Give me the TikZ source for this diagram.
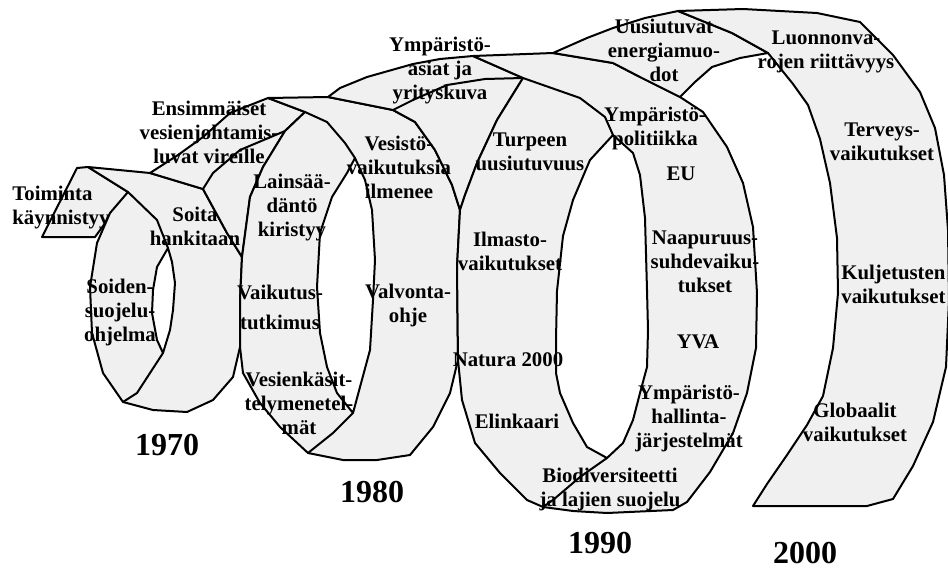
\documentclass[tikz,border=0pt]{standalone}
\usepackage{fontspec}
\setmainfont{Liberation Serif}
\definecolor{ribbon}{gray}{0.94}
\tikzset{
  ribbonpart/.style={fill=ribbon, draw=black, line width=1pt, line join=round},
  holefill/.style={fill=white, draw=black, line width=1pt, line join=round},
  ribbonline/.style={draw=black, line width=1pt, line join=round},
  lbl/.style={font=\bfseries\fontsize{10.4}{12}\selectfont, align=center, inner sep=0pt},
  year/.style={font=\bfseries\fontsize{16}{18}\selectfont, inner sep=0pt}
}
\begin{document}
\begin{tikzpicture}[x=0.5pt, y=-0.5pt]
  \useasboundingbox (0,0) rectangle (948,568);

  \coordinate (a1) at (88,167);
  \coordinate (a2) at (128,192);
  \coordinate (a3) at (150,173);
  \coordinate (a4) at (203,189);
  \coordinate (e1) at (123,402);
  \coordinate (m1) at (242,257);
  \coordinate (m2) at (240,347);
  \coordinate (h1t) at (168,248);
  \coordinate (h1b) at (163,353);
  \coordinate (b1) at (268,98);
  \coordinate (b2) at (305,112);
  \coordinate (b3) at (285,131);
  \coordinate (b4) at (328,97);
  \coordinate (b5) at (393,110);
  \coordinate (h2t) at (355,158);
  \coordinate (h2b) at (353,413);
  \coordinate (c0) at (308,453);
  \coordinate (m3) at (460,210);
  \coordinate (m4) at (458,360);
  \coordinate (c1) at (473,56);
  \coordinate (c2) at (523,78);
  \coordinate (c3) at (553,53);
  \coordinate (c4) at (680,97);
  \coordinate (c5) at (543,507);
  \coordinate (c6) at (687,502);
  \coordinate (h3t) at (613,135);
  \coordinate (h3b) at (607,458);
  \coordinate (d1) at (678,11);
  \coordinate (d2) at (768,53);
  \coordinate (d3) at (753,506);
  \coordinate (d4) at (867,506);

  \filldraw[ribbonpart] (77,168) -- (a1) -- (a2) -- (95,237) -- (42,237) -- cycle;
  \filldraw[ribbonpart] (a1) -- (a3) -- (a4) -- (227,233) -- (m1) -- (240,300) -- (m2) -- (233,377) -- (213,400) -- (187,412) -- (153,410) -- (e1) -- (103,373) -- (92,333) -- (90,287) -- (97,243) -- (110,213) -- (a2) -- cycle;
  \filldraw[ribbonpart] (a3) -- (178,155) -- (203,137) -- (230,113) -- (b1) -- (b2) -- (b3) -- (263,167) -- (250,197) -- (m1) -- (227,233) -- (a4) -- cycle;
  \filldraw[ribbonpart] (b1) -- (b4) -- (b5) -- (415,122) -- (435,150) -- (452,185) -- (m3) -- (457,267) -- (m4) -- (450,393) -- (433,427) -- (410,455) -- (377,460) -- (343,460) -- (c0) -- (280,427) -- (260,403) -- (243,373) -- (m2) -- (240,300) -- (m1) -- (250,197) -- (263,167) -- (b3) -- (b2) -- cycle;
  \filldraw[ribbonpart] (b4) -- (340,88) -- (367,77) -- (413,64) -- (440,59) -- (c1) -- (c2) -- (497,120) -- (477,163) -- (465,195) -- (m3) -- (452,185) -- (435,150) -- (415,122) -- (b5) -- cycle;
  \filldraw[ribbonpart] (c1) -- (c3) -- (613,63) -- (640,77) -- (c4) -- (703,112) -- (727,147) -- (743,183) -- (753,227) -- (757,293) -- (756,348) -- (747,393) -- (733,433) -- (710,472) -- (c6) -- (673,510) -- (607,513) -- (573,511) -- (c5) -- (527,500) -- (500,473) -- (475,443) -- (462,400) -- (m4) -- (457,267) -- (m3) -- (465,195) -- (477,163) -- (497,120) -- (c2) -- cycle;
  \filldraw[ribbonpart] (c3) -- (587,38) -- (613,28) -- (645,18) -- (d1) -- (732,33) -- (d2) -- (740,58) -- (712,67) -- (695,82) -- (c4) -- (640,77) -- (613,63) -- cycle;
  \filldraw[ribbonpart] (d1) -- (743,9) -- (817,13) -- (860,22) -- (893,55) -- (920,92) -- (935,128) -- (944,175) -- (948,230) -- (949,300) -- (946,367) -- (933,422) -- (913,466) -- (893,499) -- (d4) -- (d3) -- (767,484) -- (787,455) -- (807,425) -- (823,396) -- (833,348) -- (838,293) -- (837,238) -- (830,183) -- (820,139) -- (808,105) -- (793,84) -- (d2) -- (732,33) -- cycle;

  \filldraw[holefill] (h1t) -- (172,262) -- (175,283) -- (173,310) -- (170,330) -- (h1b) -- (157,340) -- (152,313) -- (153,290) -- (157,267) -- cycle;
  \filldraw[holefill] (h2t) -- (365,180) -- (372,210) -- (375,260) -- (373,300) -- (370,350) -- (360,387) -- (h2b) -- (337,393) -- (327,367) -- (320,333) -- (317,287) -- (320,233) -- (332,197) -- (347,173) -- cycle;
  \filldraw[holefill] (h3t) -- (633,153) -- (640,175) -- (645,218) -- (647,290) -- (648,330) -- (647,367) -- (640,393) -- (633,420) -- (623,443) -- (h3b) -- (587,447) -- (573,423) -- (560,393) -- (556,373) -- (556,340) -- (557,291) -- (563,236) -- (573,200) -- (590,160) -- cycle;

  \draw[ribbonline] (a2) -- (157,220) -- (h1t);
  \draw[ribbonline] (h1b) -- (137,393) -- (e1);
  \draw[ribbonline] (a4) -- (213,173) -- (240,150) -- (b3);
  \draw[ribbonline] (b2) -- (327,122) -- (345,143) -- (h2t);
  \draw[ribbonline] (h2b) -- (333,433) -- (c0);
  \draw[ribbonline] (b5) -- (413,100) -- (447,85) -- (485,79) -- (c2);
  \draw[ribbonline] (c2) -- (580,98) -- (605,117) -- (h3t);
  \draw[ribbonline] (h3b) -- (580,477) -- (553,500) -- (c5);

  \node[lbl, anchor=west, align=left] (toiminta) at (12,208) {Toiminta\\käynnistyy};
  \node[lbl] (ensimmaiset) at (209,132) {Ensimmäiset\\vesienjohtamis-\\luvat vireille};
  \node[lbl] (soita) at (195,226) {Soita\\hankitaan};
  \node[lbl] (soiden) at (120,312) {Soiden-\\suojelu-\\ohjelma};
  \node[lbl] (lainsaadanto) at (292,208) {Lainsää-\\däntö\\kiristyy};
  \node[lbl] (vaikutus) at (280,307) {Vaikutus-\\[3pt]tutkimus};
  \node[lbl] (vesienkasittely) at (299,403) {Vesienkäsit-\\telymenetel-\\mät};
  \node[lbl] (vesisto) at (399,167) {Vesistö-\\vaikutuksia\\ilmenee};
  \node[lbl] (valvonta) at (408,305) {Valvonta-\\ohje};
  \node[lbl] (yrityskuva) at (440,71) {Ympäristö-\\asiat ja\\yrityskuva};
  \node[lbl] (turve) at (530,152) {Turpeen\\uusiutuvuus};
  \node[lbl] (ilmasto) at (510,251) {Ilmasto-\\vaikutukset};
  \node[lbl] (natura) at (508,360) {Natura 2000};
  \node[lbl] (elinkaari) at (517,421) {Elinkaari};
  \node[lbl] (biodiv) at (610,489) {Biodiversiteetti\\ja lajien suojelu};
  \node[lbl] (energia) at (664,50) {Uusiutuvat\\energiamuo-\\dot};
  \node[lbl] (politiikka) at (655,128) {Ympäristö-\\politiikka};
  \node[lbl] (eu) at (681,174) {EU};
  \node[lbl] (naapuri) at (705,262) {Naapuruus-\\suhdevaiku-\\tukset};
  \node[lbl] (yva) at (698,342) {YVA};
  \node[lbl] (hallinta) at (689,418) {Ympäristö-\\hallinta-\\järjestelmät};
  \node[lbl] (luonnonvarat) at (826,52) {Luonnonva-\\rojen riittävyys};
  \node[lbl] (terveys) at (882,142) {Terveys-\\vaikutukset};
  \node[lbl, anchor=west, align=left] (kuljetus) at (841,284) {Kuljetusten\\vaikutukset};
  \node[lbl] (globaali) at (855,422) {Globaalit\\vaikutukset};
  \node[year] (y1970) at (167,445) {1970};
  \node[year] (y1980) at (372,492) {1980};
  \node[year] (y1990) at (600,543) {1990};
  \node[year] (y2000) at (805,553) {2000};
\end{tikzpicture}
\end{document}
